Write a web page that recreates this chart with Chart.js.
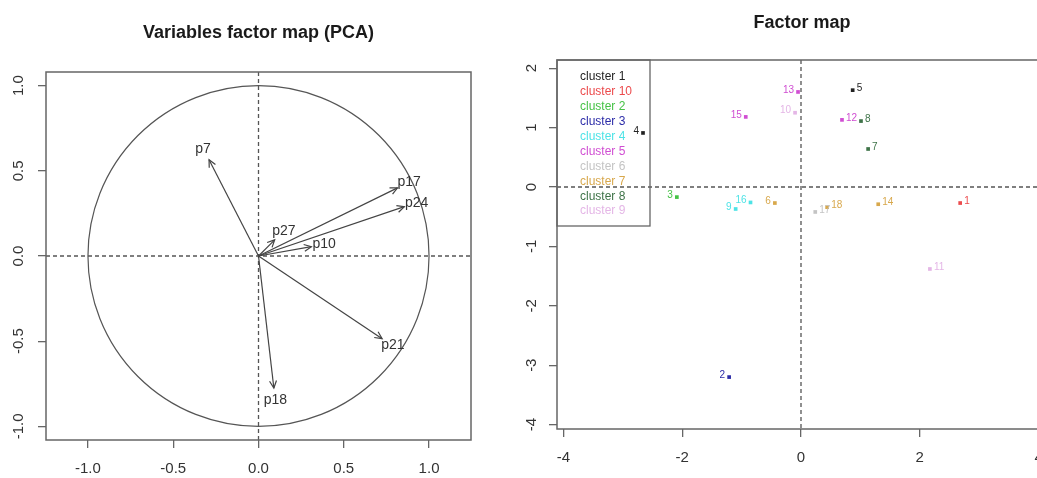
<!DOCTYPE html>
<html>
<head>
<meta charset="utf-8">
<script src="https://cdn.jsdelivr.net/npm/chart.js@4"></script>
<style>
  html, body { margin: 0; padding: 0; background: #fff; overflow: hidden; width: 1037px; height: 478px; }
  #pcaWrap { position: absolute; left: 0; top: 0; width: 520px; height: 478px; }
  #factorWrap { position: absolute; left: 520px; top: 0; width: 560px; height: 478px; }
</style>
</head>
<body>
<div id="pcaWrap"><canvas id="pcaChart" width="520" height="478"></canvas></div>
<div id="factorWrap"><canvas id="factorChart" width="560" height="478"></canvas></div>
<script>
// Variables factor map: loadings on dim 1 / dim 2
const varNames = ['p7', 'p17', 'p24', 'p27', 'p10', 'p21', 'p18'];
const varDim1 = [-0.29, 0.815, 0.855, 0.095, 0.31, 0.725, 0.09];
const varDim2 = [0.565, 0.40, 0.29, 0.095, 0.055, -0.485, -0.775];
const pcaTicks = [-1, -0.5, 0, 0.5, 1];

// Factor map: individuals and their cluster
const obsLabels = ['1', '2', '3', '4', '5', '6', '7', '8', '9', '10', '11', '12', '13', '14', '15', '16', '17', '18'];
const obsDim1 = [2.68, -1.21, -2.09, -2.66, 0.87, -0.44, 1.13, 1.01, -1.10, -0.10, 2.17, 0.69, -0.05, 1.30, -0.93, -0.85, 0.24, 0.44];
const obsDim2 = [-0.27, -3.20, -0.17, 0.91, 1.63, -0.27, 0.64, 1.11, -0.37, 1.25, -1.38, 1.13, 1.60, -0.29, 1.18, -0.26, -0.42, -0.34];
const obsCluster = ['cluster 10', 'cluster 3', 'cluster 2', 'cluster 1', 'cluster 1', 'cluster 7', 'cluster 8', 'cluster 8', 'cluster 4',
                    'cluster 9', 'cluster 9', 'cluster 5', 'cluster 5', 'cluster 7', 'cluster 5', 'cluster 4', 'cluster 6', 'cluster 7'];
const clusterNames = ['cluster 1', 'cluster 10', 'cluster 2', 'cluster 3', 'cluster 4', 'cluster 5', 'cluster 6', 'cluster 7', 'cluster 8', 'cluster 9'];
const clusterColors = ['#222222', '#ec4a4c', '#46c246', '#2c2ca8', '#4de3e6', '#d04ed2', '#c4c4c4', '#d8a84c', '#3e7348', '#e4b6e6'];
const factorXTicks = [-4, -2, 0, 2, 4];
const factorYTicks = [-4, -3, -2, -1, 0, 1, 2];

const FONT = '"Liberation Sans", Arial, sans-serif';
const AXIS_GREY = '#666';

// box round the plot + main title
const frameAndTitle = {
    id: 'frameAndTitle',
    afterDraw(chart, args, opts) {
        const { ctx, chartArea: a } = chart;
        ctx.save();
        ctx.strokeStyle = AXIS_GREY;
        ctx.lineWidth = 1.5;
        ctx.strokeRect(a.left, a.top, a.right - a.left, a.bottom - a.top);
        ctx.fillStyle = '#1a1a1a';
        ctx.font = 'bold 18px ' + FONT;
        ctx.textAlign = 'center';
        ctx.textBaseline = 'middle';
        const x = opts.x !== undefined ? opts.x : (a.left + a.right) / 2;
        ctx.fillText(opts.text, x, opts.y);
        ctx.restore();
    }
};

// dashed lines through the origin
const zeroLines = {
    id: 'zeroLines',
    beforeDatasetsDraw(chart) {
        const { ctx, chartArea: a, scales: { x, y } } = chart;
        const x0 = x.getPixelForValue(0);
        const y0 = y.getPixelForValue(0);
        ctx.save();
        ctx.strokeStyle = '#555';
        ctx.lineWidth = 1.3;
        ctx.setLineDash([4, 3]);
        ctx.beginPath();
        ctx.moveTo(a.left, y0); ctx.lineTo(a.right, y0);
        ctx.moveTo(x0, a.top); ctx.lineTo(x0, a.bottom);
        ctx.stroke();
        ctx.restore();
    }
};

// unit circle, arrow heads and variable names
const correlationCircle = {
    id: 'correlationCircle',
    beforeDatasetsDraw(chart) {
        const { ctx, scales: { x, y } } = chart;
        const cx = x.getPixelForValue(0), cy = y.getPixelForValue(0);
        const rx = x.getPixelForValue(1) - cx;
        const ry = cy - y.getPixelForValue(1);
        ctx.save();
        ctx.strokeStyle = '#555';
        ctx.lineWidth = 1.2;
        ctx.beginPath();
        ctx.ellipse(cx, cy, rx, ry, 0, 0, Math.PI * 2);
        ctx.stroke();
        ctx.restore();
    },
    afterDatasetsDraw(chart) {
        const { ctx } = chart;
        ctx.save();
        ctx.strokeStyle = '#444';
        ctx.fillStyle = '#333';
        ctx.lineWidth = 1.2;
        ctx.font = '14px ' + FONT;
        ctx.textAlign = 'center';
        ctx.textBaseline = 'middle';
        chart.data.datasets.forEach((ds, i) => {
            const pts = chart.getDatasetMeta(i).data;
            const p0 = pts[0], p1 = pts[1];
            const ang = Math.atan2(p1.y - p0.y, p1.x - p0.x);
            const len = 8, spread = 0.45;
            ctx.beginPath();
            ctx.moveTo(p1.x - len * Math.cos(ang - spread), p1.y - len * Math.sin(ang - spread));
            ctx.lineTo(p1.x, p1.y);
            ctx.lineTo(p1.x - len * Math.cos(ang + spread), p1.y - len * Math.sin(ang + spread));
            ctx.stroke();
            ctx.fillText(ds.label, p1.x + 13 * Math.cos(ang), p1.y + 12 * Math.sin(ang));
        });
        ctx.restore();
    }
};

// names next to the individuals, and the cluster legend
const factorLabels = {
    id: 'factorLabels',
    afterDatasetsDraw(chart) {
        const { ctx, chartArea: a } = chart;
        ctx.save();
        ctx.font = '10px ' + FONT;
        ctx.textBaseline = 'middle';
        chart.data.datasets.forEach((ds, i) => {
            const pts = chart.getDatasetMeta(i).data;
            ds.data.forEach((d, j) => {
                const p = pts[j];
                ctx.fillStyle = ds.backgroundColor;
                if (d.x < 0) {
                    ctx.textAlign = 'right';
                    ctx.fillText(d.label, p.x - 4, p.y - 2);
                } else {
                    ctx.textAlign = 'left';
                    ctx.fillText(d.label, p.x + 4, p.y - 2);
                }
            });
        });

        // legend box, top left
        ctx.strokeStyle = AXIS_GREY;
        ctx.lineWidth = 1.3;
        ctx.strokeRect(a.left, a.top, 93, 166);
        ctx.font = '12px ' + FONT;
        ctx.textAlign = 'left';
        clusterNames.forEach((name, k) => {
            ctx.fillStyle = clusterColors[k];
            ctx.fillText(name, a.left + 23, a.top + 17 + k * 14.9);
        });
        ctx.restore();
    }
};

function fixedTicks(values) {
    return scale => { scale.ticks = values.map(v => ({ value: v })); };
}

function axisOpts(extra) {
    return Object.assign({
        type: 'linear',
        grid: { drawOnChartArea: false, drawTicks: true, tickLength: 8, color: AXIS_GREY, lineWidth: 1.3 },
        border: { display: false }
    }, extra);
}

// ---- left: variables factor map ----
new Chart(document.getElementById('pcaChart'), {
    type: 'scatter',
    data: {
        datasets: varNames.map((name, i) => ({
            label: name,
            data: [{ x: 0, y: 0 }, { x: varDim1[i], y: varDim2[i] }],
            showLine: true,
            borderColor: '#444',
            borderWidth: 1.2,
            pointRadius: 0
        }))
    },
    options: {
        responsive: false,
        animation: false,
        layout: { padding: { top: 72, right: 49, bottom: 0, left: 0 } },
        plugins: {
            legend: { display: false },
            tooltip: { enabled: false },
            frameAndTitle: { text: 'Variables factor map (PCA)', y: 33 }
        },
        scales: {
            x: axisOpts({
                min: -1.246, max: 1.246,
                afterBuildTicks: fixedTicks(pcaTicks),
                afterFit: s => { s.height = 38; },
                ticks: { callback: v => v.toFixed(1), color: '#333', font: { size: 15, family: FONT }, padding: 12, maxRotation: 0, autoSkip: false }
            }),
            y: axisOpts({
                min: -1.08, max: 1.08,
                afterBuildTicks: fixedTicks(pcaTicks),
                afterFit: s => { s.width = 46; },
                ticks: { callback: v => v.toFixed(1), color: '#333', font: { size: 15, family: FONT }, padding: 6, minRotation: 90, maxRotation: 90, crossAlign: 'center', autoSkip: false }
            })
        }
    },
    plugins: [zeroLines, correlationCircle, frameAndTitle]
});

// ---- right: factor map with clusters ----
new Chart(document.getElementById('factorChart'), {
    type: 'scatter',
    data: {
        datasets: clusterNames.map((name, k) => ({
            label: name,
            data: obsLabels
                .map((lab, i) => ({ x: obsDim1[i], y: obsDim2[i], label: lab, c: obsCluster[i] }))
                .filter(d => d.c === name),
            pointStyle: 'rect',
            pointRadius: 2.6,
            borderWidth: 0,
            backgroundColor: clusterColors[k]
        }))
    },
    options: {
        responsive: false,
        animation: false,
        layout: { padding: { top: 60, right: 23, bottom: 0, left: 0 } },
        plugins: {
            legend: { display: false },
            tooltip: { enabled: false },
            frameAndTitle: { text: 'Factor map', y: 23, x: 282 }
        },
        scales: {
            x: axisOpts({
                min: -4.108, max: 4.31,
                afterBuildTicks: fixedTicks(factorXTicks),
                afterFit: s => { s.height = 49; },
                ticks: { callback: v => String(v), color: '#333', font: { size: 15, family: FONT }, padding: 12, maxRotation: 0, autoSkip: false }
            }),
            y: axisOpts({
                min: -4.074, max: 2.138,
                afterBuildTicks: fixedTicks(factorYTicks),
                afterFit: s => { s.width = 37; },
                ticks: { callback: v => String(v), color: '#333', font: { size: 15, family: FONT }, padding: 10, minRotation: 90, maxRotation: 90, crossAlign: 'center', autoSkip: false }
            })
        }
    },
    plugins: [zeroLines, factorLabels, frameAndTitle]
});
</script>
</body>
</html>
